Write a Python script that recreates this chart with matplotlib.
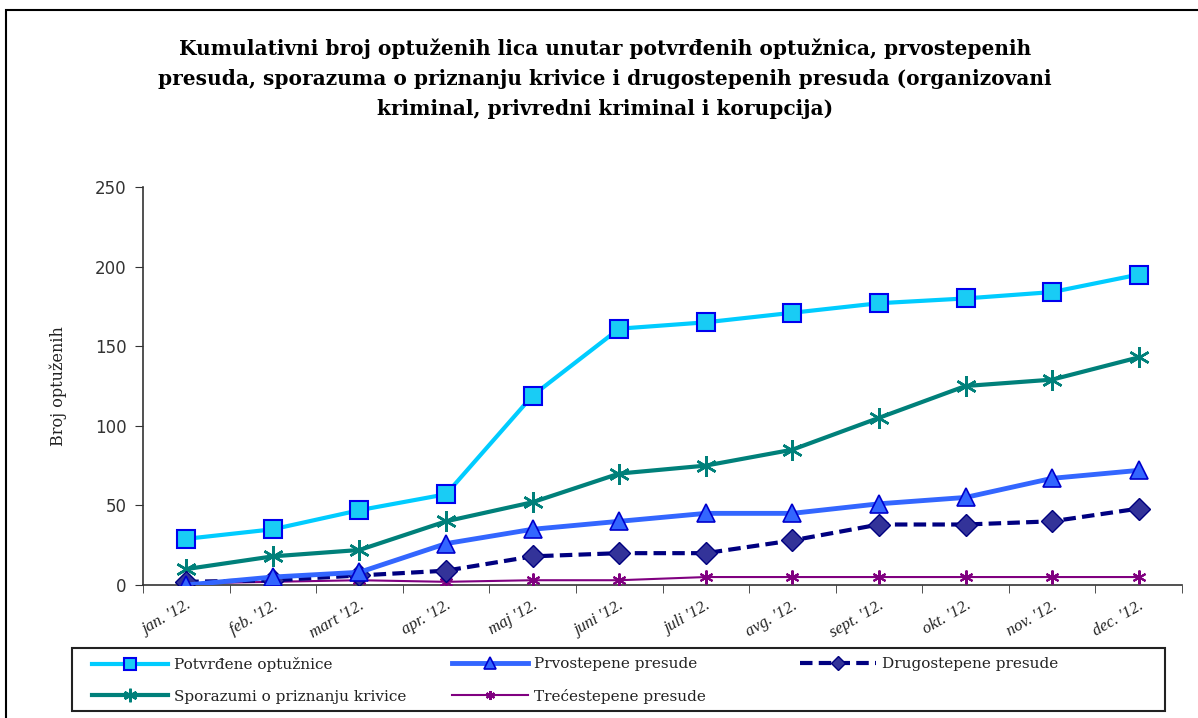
import matplotlib
matplotlib.use("Agg")
import matplotlib.pyplot as plt
from matplotlib.patches import Rectangle

months = ["jan. '12.", "feb. '12.", "mart '12.", "apr. '12.", "maj '12.", "juni '12.",
          "juli '12.", "avg. '12.", "sept. '12.", "okt. '12.", "nov. '12.", "dec. '12."]
potvrdjene = [29, 35, 47, 57, 119, 161, 165, 171, 177, 180, 184, 195]
prvostepene = [0, 5, 8, 26, 35, 40, 45, 45, 51, 55, 67, 72]
drugostepene = [2, 3, 6, 9, 18, 20, 20, 28, 38, 38, 40, 48]
sporazumi = [10, 18, 22, 40, 52, 70, 75, 85, 105, 125, 129, 143]
trecestepene = [1, 2, 3, 2, 3, 3, 5, 5, 5, 5, 5, 5]
yticks = [0, 50, 100, 150, 200, 250]

plt.rcParams['font.family'] = ['DejaVu Serif', 'Liberation Serif']

W, H = 1198, 718
fig = plt.figure(figsize=(W/100, H/100), dpi=100)
fig.patches.append(Rectangle((6/W, -0.05), 1.2, 1 - 10/H + 0.05, transform=fig.transFigure,
                             fill=False, edgecolor='black', linewidth=1.5))

ax = fig.add_axes([143/W, 1 - 585/H, (1182-143)/W, (585-187)/H])
x = list(range(len(months)))

asterisk = (6, 2, 0)
h_sp, = ax.plot(x, sporazumi, color='#00807A', lw=3, marker=asterisk, markersize=15,
                markeredgewidth=1.8, markeredgecolor='#00807A', label='Sporazumi o priznanju krivice', zorder=3)
h_tr, = ax.plot(x, trecestepene, color='#800080', lw=1.5, marker=asterisk, markersize=10,
                markeredgewidth=1.5, markeredgecolor='#800080', label='Trećestepene presude', zorder=3)
h_dr, = ax.plot(x, drugostepene, color='#000080', lw=3, ls=(0, (3, 1.5)), marker='D', markersize=11,
                markerfacecolor='#333399', markeredgecolor='#000080', markeredgewidth=1,
                label='Drugostepene presude', zorder=4)
h_pr, = ax.plot(x, prvostepene, color='#3366FF', lw=3.5, marker='^', markersize=13,
                markerfacecolor='#3366FF', markeredgecolor='#0000CC', markeredgewidth=1.2,
                label='Prvostepene presude', zorder=4)
h_po, = ax.plot(x, potvrdjene, color='#00CCFF', lw=3, marker='s', markersize=13,
                markerfacecolor='#19CCF5', markeredgecolor='#0000EE', markeredgewidth=1.5,
                label='Potvrđene optužnice', zorder=5)

ax.set_xlim(-0.5, len(months) - 0.5)
ax.set_ylim(0, 250)
ax.set_yticks(yticks)
ax.set_yticklabels([str(v) for v in yticks], fontsize=12, color='#333333', family='DejaVu Sans')
ax.set_xticks(x)
ax.set_xticklabels(months, rotation=30, ha='right', rotation_mode='anchor', fontsize=12,
                   style='italic', color='#222222', family='Liberation Serif')
ax.tick_params(axis='x', which='major', length=0, pad=9)
ax.set_xticks([i - 0.5 for i in range(len(months) + 1)], minor=True)
ax.tick_params(axis='x', which='minor', length=6, direction='out', color='#333333')
ax.tick_params(axis='y', length=6, direction='out', color='#333333', pad=6)
for s in ['top', 'right']:
    ax.spines[s].set_visible(False)
for s in ['left', 'bottom']:
    ax.spines[s].set_color('#333333')
    ax.spines[s].set_linewidth(1.2)

ax.set_ylabel('Broj optuženih', fontsize=11.5, labelpad=20, color='#222222')

title_lines = ["Kumulativni broj optuženih lica unutar potvrđenih optužnica, prvostepenih",
               "presuda, sporazuma o priznanju krivice i drugostepenih presuda (organizovani",
               "kriminal, privredni kriminal i korupcija)"]
fig.text(605/W, 1 - 79/H, "\n".join(title_lines),
         ha='center', va='center', fontsize=14.5, fontweight='bold', linespacing=1.62)

# legend frame
fig.patches.append(Rectangle((72/W, 1 - 711/H), (1165-72)/W, (711-648)/H, transform=fig.transFigure,
                             fill=False, edgecolor='#222222', linewidth=1.5))
columns = [([h_po, h_sp], 92), ([h_pr, h_tr], 452), ([h_dr], 800)]
for hs, x0 in columns:
    lg = fig.legend(handles=hs, labels=[h.get_label() for h in hs], loc='upper left',
                    bbox_to_anchor=(x0/W, 1 - 657/H), frameon=False, fontsize=11,
                    handlelength=5.0, handletextpad=0.4, borderpad=0, borderaxespad=0,
                    labelspacing=1.15, markerscale=0.65)
    for t in lg.get_texts():
        t.set_color('#222222')

fig.savefig('out.png', dpi=100, facecolor='white')
